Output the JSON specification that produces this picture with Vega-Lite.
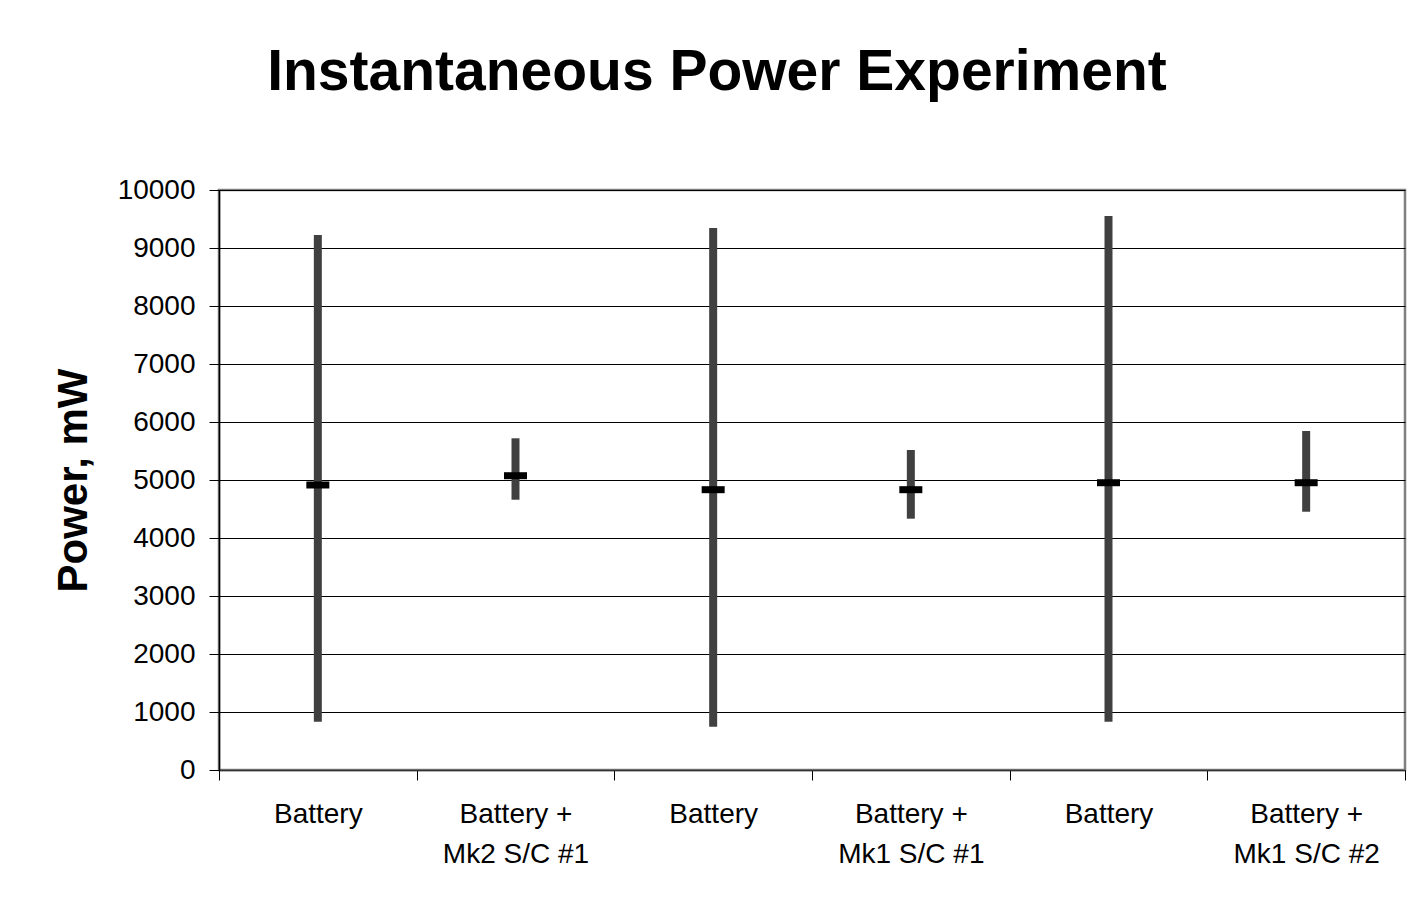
{
  "$schema": "https://vega.github.io/schema/vega-lite/v6.json",
  "autosize": {"type": "none"},
  "width": 1186,
  "height": 580,
  "padding": {"left": 219, "top": 190, "right": 11, "bottom": 137},
  "background": "white",
  "title": {
    "text": "Instantaneous Power Experiment",
    "font": "Liberation Sans",
    "fontSize": 57,
    "fontWeight": "bold",
    "color": "black",
    "anchor": "middle",
    "frame": "group",
    "dx": -95,
    "baseline": "alphabetic",
    "offset": 29
  },
  "data": {
    "values": [
      {"run": "Battery", "low": 833, "high": 9224, "close": 4914},
      {"run": "Battery + Mk2 S/C #1", "low": 4660, "high": 5719, "close": 5074},
      {"run": "Battery ", "low": 747, "high": 9345, "close": 4833},
      {"run": "Battery + Mk1 S/C #1", "low": 4333, "high": 5517, "close": 4833},
      {"run": "Battery  ", "low": 833, "high": 9552, "close": 4953},
      {"run": "Battery + Mk1 S/C #2", "low": 4453, "high": 5845, "close": 4953}
    ]
  },
  "encoding": {
    "x": {
      "field": "run",
      "type": "nominal",
      "sort": null,
      "scale": {"paddingInner": 0, "paddingOuter": 0},
      "axis": {
        "title": null,
        "labelAngle": 0,
        "labelFont": "Liberation Sans",
        "labelFontSize": 28,
        "labelColor": "black",
        "labelLineHeight": 40,
        "labelPadding": 20,
        "labelExpr": "isString(datum.value) ? (indexof(datum.value, '+') >= 0 ? [substring(datum.value, 0, 9), substring(datum.value, 10)] : trim(datum.value)) : ''",
        "tickBand": "extent",
        "tickSize": 10,
        "tickColor": "black",
        "domainColor": "#333333",
        "domainWidth": 1.5,
        "grid": false
      }
    }
  },
  "layer": [
    {
      "mark": {"type": "rule", "strokeWidth": 8, "color": "#404040"},
      "encoding": {
        "y": {
          "field": "low",
          "type": "quantitative",
          "scale": {"domain": [0, 10000], "nice": false},
          "axis": {
            "title": "Power, mW",
            "titleFont": "Liberation Sans",
            "titleFontSize": 42,
            "titleFontWeight": "bold",
            "titleColor": "black",
            "titlePadding": 22,
            "values": [0, 1000, 2000, 3000, 4000, 5000, 6000, 7000, 8000, 9000, 10000],
            "format": "d",
            "labelFont": "Liberation Sans",
            "labelFontSize": 28,
            "labelColor": "black",
            "labelPadding": 14,
            "tickSize": 10,
            "tickColor": "black",
            "domainColor": "black",
            "domainWidth": 1.5,
            "grid": true,
            "gridColor": "black",
            "gridWidth": 1.2
          }
        },
        "y2": {"field": "high"}
      }
    },
    {
      "mark": {"type": "tick", "size": 23, "thickness": 7, "color": "black", "opacity": 1, "orient": "horizontal"},
      "encoding": {
        "y": {"field": "close", "type": "quantitative"}
      }
    }
  ],
  "config": {
    "view": {"stroke": "#808080", "strokeWidth": 2.5}
  }
}
